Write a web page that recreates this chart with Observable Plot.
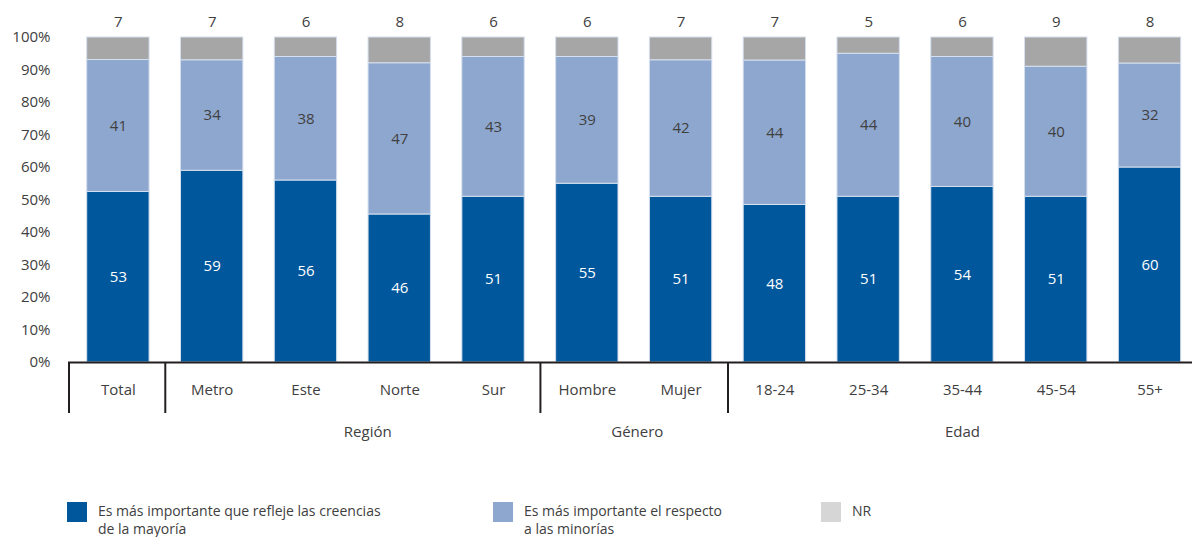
<!DOCTYPE html>
<html>
<head>
<meta charset="utf-8">
<script src="https://cdn.jsdelivr.net/npm/d3@7"></script>
<script src="https://cdn.jsdelivr.net/npm/@observablehq/plot@0.6"></script>
<style>
  body { margin: 0; background: #fff; font-family: "Open Sans", sans-serif; }
  #legend { display: flex; padding-left: 67px; padding-top: 2px; color: #404040; font-size: 14px; line-height: 18px; }
  .item { display: flex; align-items: flex-start; }
  .sw { width: 20px; height: 20px; flex: none; margin-right: 11px; }
  .lab { white-space: pre-line; margin-top: 0px; }
</style>
</head>
<body>
<div id="chart"></div>
<div id="legend"></div>
<script>
const categories = ["Total","Metro","Este","Norte","Sur","Hombre","Mujer","18-24","25-34","35-44","45-54","55+"];
const mayoria   = [53,59,56,46,51,55,51,48,51,54,51,60];
const minorias  = [41,34,38,47,43,39,42,44,44,40,40,32];
const nr        = [7,7,6,8,6,6,7,7,5,6,9,8];
const seriesNames = ["Es más importante que refleje las creencias\nde la mayoría", "Es más importante el respecto\na las minorías", "NR"];
const seriesColors = ["#00579b", "#8ea7ce", "#a6a6a6"];
const legendColors = ["#00579b", "#8ea7ce", "#d6d6d6"];
const groups = [
  {label: "Región", at: "Norte", shift: -32},
  {label: "Género", at: "Hombre", shift: 50},
  {label: "Edad", at: "35-44", shift: 0}
];
const innerSeparators = ["Metro", "Hombre", "18-24"];

const rows = [];
categories.forEach((c, i) => {
  [mayoria, minorias, nr].forEach((arr, s) => rows.push({cat: c, series: seriesNames[s], idx: s, value: arr[i]}));
});

const W = 1192, H = 500, plotTop = 37, plotBottom = 362;
const step = (1196.4 - 71) / (12 - 0.335 + 2 * 0.1675);
const sepDepth = -(413 - plotBottom) / (plotBottom - plotTop);
const ink = "#404040";

const stackOpts = {offset: "normalize", x: "cat", y: "value"};

const chart = Plot.plot({
  width: W,
  height: H,
  marginTop: plotTop,
  marginBottom: H - plotBottom,
  marginLeft: 68,
  marginRight: 0,
  style: {fontFamily: "'Open Sans', sans-serif", fontSize: "15px", color: ink, background: "#fff"},
  x: {type: "band", domain: categories, range: [71, 1196.4], paddingInner: 0.335, paddingOuter: 0.1675, round: false, axis: null},
  y: {domain: [0, 1], label: null},
  color: {domain: seriesNames, range: seriesColors},
  marks: [
    Plot.axisY({ticks: d3.range(0, 1.01, 0.1), tickFormat: d3.format(".0%"), tickSize: 0, tickPadding: 18, label: null, fontSize: 15, fill: ink}),
    Plot.barY(rows, Plot.stackY({...stackOpts, fill: "series", stroke: "#d5dfee", strokeWidth: 1})),
    Plot.text(rows, Plot.stackY({...stackOpts, text: d => d.idx === 0 ? String(d.value) : null, fill: "white", fontSize: 15})),
    Plot.text(rows, Plot.stackY({...stackOpts, text: d => d.idx === 1 ? String(d.value) : null, fill: ink, fontSize: 15})),
    Plot.text(categories, {x: d => d, text: (d, i) => String(nr[i]), frameAnchor: "top", lineAnchor: "middle", dy: -15, fill: ink, fontSize: 15}),
    Plot.ruleY([0], {stroke: "#231f20", strokeWidth: 2}),
    Plot.ruleX(["Total"], {x: d => d, dx: -step / 2 - 2.5, y1: 0, y2: sepDepth, stroke: "#231f20", strokeWidth: 2}),
    Plot.ruleX(innerSeparators, {x: d => d, dx: -step / 2, y1: 0, y2: sepDepth, stroke: "#231f20", strokeWidth: 2}),
    Plot.text(categories, {x: d => d, frameAnchor: "bottom", lineAnchor: "middle", dy: 28, fill: ink, fontSize: 15}),
    ...groups.map(g => Plot.text([g], {x: "at", text: "label", dx: g.shift, frameAnchor: "bottom", lineAnchor: "middle", dy: 70, fill: ink, fontSize: 15}))
  ]
});
document.getElementById("chart").appendChild(chart);

const legend = document.getElementById("legend");
const widths = [426, 328, 200];
seriesNames.forEach((name, i) => {
  const it = document.createElement("div");
  it.className = "item";
  it.style.width = widths[i] + "px";
  const sw = document.createElement("div");
  sw.className = "sw";
  sw.style.background = legendColors[i];
  const lab = document.createElement("div");
  lab.className = "lab";
  lab.textContent = name;
  it.appendChild(sw); it.appendChild(lab);
  legend.appendChild(it);
});
</script>
</body>
</html>
